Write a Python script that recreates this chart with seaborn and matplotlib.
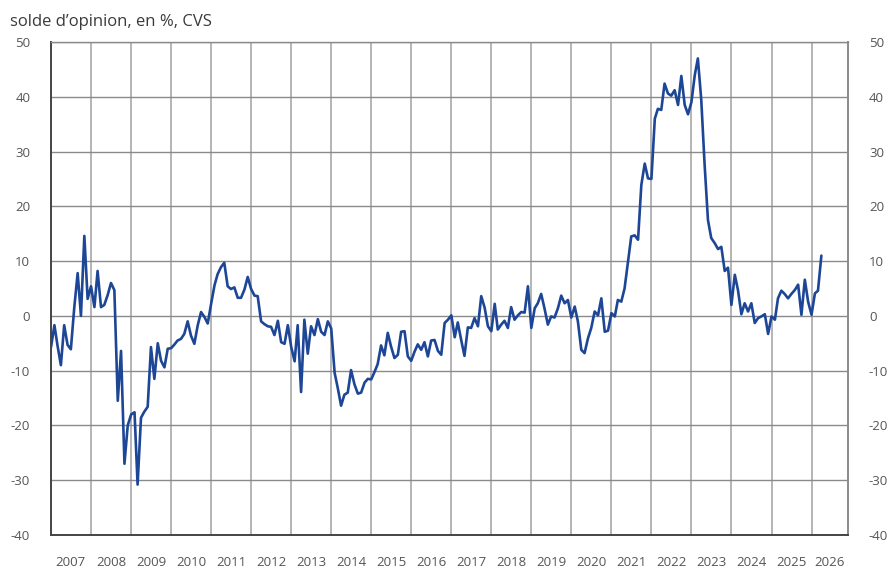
import pandas as pd
import matplotlib
matplotlib.use('Agg')
import matplotlib.pyplot as plt
import seaborn as sns


# monthly values, one list per year (Jan 2007 - Apr 2026)
v2007 = [-5.7, -1.7, -5.4, -9.0, -1.7, -5.3, -6.1, 1.5, 7.8, 0.0, 14.6, 3.1]
v2008 = [5.4, 1.6, 8.2, 1.6, 2.0, 3.8, 6.0, 4.7, -15.5, -6.4, -27.0, -20.0]
v2009 = [-18.0, -17.6, -30.8, -18.6, -17.5, -16.6, -5.7, -11.5, -5.0, -8.2, -9.4, -6.0]
v2010 = [-5.9, -5.2, -4.5, -4.2, -3.3, -1.0, -3.6, -5.1, -1.7, 0.7, -0.2, -1.4]
v2011 = [2.2, 5.6, 7.6, 8.9, 9.7, 5.4, 4.9, 5.2, 3.3, 3.3, 4.8, 7.1]
v2012 = [4.9, 3.7, 3.6, -1.0, -1.5, -1.9, -2.0, -3.5, -0.9, -4.8, -5.1, -1.7]
v2013 = [-5.7, -8.3, -1.7, -13.9, -0.7, -6.9, -1.9, -3.5, -0.6, -2.9, -3.5, -1.0]
v2014 = [-2.3, -10.4, -13.1, -16.4, -14.4, -14.0, -9.9, -12.5, -14.2, -14.0, -12.2, -11.5]
v2015 = [-11.6, -10.2, -8.8, -5.4, -7.2, -3.1, -5.6, -7.7, -7.1, -2.9, -2.8, -7.4]
v2016 = [-8.2, -6.5, -5.2, -6.2, -4.8, -7.4, -4.5, -4.4, -6.4, -7.1, -1.3, -0.7]
v2017 = [0.1, -3.9, -1.2, -4.4, -7.3, -2.1, -2.2, -0.4, -1.9, 3.6, 1.5, -1.9]
v2018 = [-2.8, 2.2, -2.5, -1.6, -0.9, -2.2, 1.6, -0.7, 0.1, 0.7, 0.6, 5.4]
v2019 = [-2.2, 1.4, 2.3, 4.0, 1.4, -1.6, -0.1, -0.3, 1.4, 3.7, 2.3, 2.9]
v2020 = [-0.3, 1.7, -1.0, -6.2, -6.8, -4.1, -2.2, 0.8, 0.1, 3.2, -2.9, -2.7]
v2021 = [0.5, -0.1, 2.9, 2.6, 5.0, 9.9, 14.5, 14.7, 13.9, 23.9, 27.8, 25.1]
v2022 = [25.0, 36.0, 37.8, 37.6, 42.4, 40.6, 40.2, 41.2, 38.5, 43.8, 38.5, 36.8]
v2023 = [39.0, 44.0, 47.0, 39.4, 27.8, 17.5, 14.2, 13.3, 12.2, 12.6, 8.2, 8.8]
v2024 = [2.0, 7.5, 4.7, 0.3, 2.3, 0.8, 2.3, -1.3, -0.4, -0.1, 0.3, -3.3]
v2025 = [-0.1, -0.7, 3.2, 4.6, 4.0, 3.2, 4.0, 4.7, 5.7, 0.2, 6.6, 2.6]
v2026 = [0.2, 4.1, 4.6, 11.0]

values = (v2007 + v2008 + v2009 + v2010 + v2011 + v2012 + v2013 + v2014 + v2015 + v2016
          + v2017 + v2018 + v2019 + v2020 + v2021 + v2022 + v2023 + v2024 + v2025 + v2026)
years = list(range(2007, 2027))
yticks = list(range(-40, 51, 10))

df = pd.DataFrame({'date': pd.date_range('2007-01-01', periods=len(values), freq='MS'),
                   'solde': values})

sns.set_theme(style='white')
plt.rcParams['font.family'] = ['Open Sans', 'DejaVu Sans']
plt.rcParams['axes.unicode_minus'] = False

fig = plt.figure(figsize=(8.89, 5.69), dpi=100)
ax = fig.add_axes([0.0574, 0.0598, 0.8966, 0.8664])

sns.lineplot(data=df, x='date', y='solde', ax=ax, color='#1d4696', linewidth=1.9)

# axes limits and grid
ax.set_xlim(pd.Timestamp('2007-01-01'), pd.Timestamp('2026-12-01'))
ax.set_ylim(-40, 50)
ax.set_yticks(yticks)
ax.set_xticks([pd.Timestamp(f'{y}-01-01') for y in years])
ax.set_xticks([pd.Timestamp(f'{y}-07-01') for y in years[:-1]] + [pd.Timestamp('2026-06-16')], minor=True)
ax.xaxis.set_major_formatter(plt.NullFormatter())
ax.set_xticklabels([str(y) for y in years], minor=True)
ax.grid(axis='y', color='#8a8a8a', linewidth=1.0)
ax.grid(axis='x', which='major', color='#b4b4b4', linewidth=1.4)
ax.set_axisbelow(True)

# tick labels on both sides, no tick marks
ax.tick_params(axis='both', which='both', length=0, labelsize=9.5, labelcolor='#555555')
ax.tick_params(axis='y', labelright=True, pad=15)
ax.tick_params(axis='x', which='minor', pad=15)

for side in ['left', 'bottom']:
    ax.spines[side].set_color('#444444')
    ax.spines[side].set_linewidth(1.4)
ax.spines['top'].set_color('#8a8a8a')
ax.spines['top'].set_linewidth(1.0)
ax.spines['right'].set_color('#8a8a8a')
ax.spines['right'].set_linewidth(1.4)

ax.set(xlabel='', ylabel='')
fig.text(0.011, 0.962, 'solde d\u2019opinion, en %, CVS', fontsize=12, color='#3a3a3a', va='center')

fig.savefig('out.png', dpi=100)
